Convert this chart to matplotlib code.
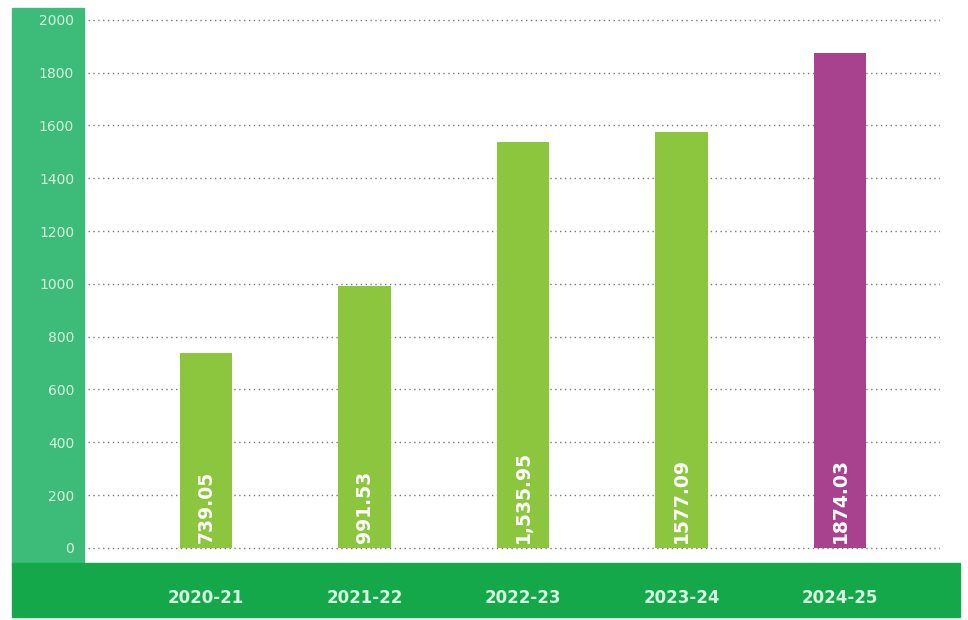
import matplotlib
matplotlib.use("Agg")
import matplotlib.pyplot as plt
from matplotlib.patches import Rectangle

years = ["2020-21", "2021-22", "2022-23", "2023-24", "2024-25"]
values = [739.05, 991.53, 1535.95, 1577.09, 1874.03]
labels = ["739.05", "991.53", "1,535.95", "1577.09", "1874.03"]
yticks = list(range(0, 2001, 200))

GREEN = "#8cc63f"
MAGENTA = "#a8428e"
colors = [GREEN, GREEN, GREEN, GREEN, MAGENTA]
TXT = "#d6f7e0"

W, H = 968, 620
fig = plt.figure(figsize=(W / 100, H / 100), dpi=100)

# coloured bands behind the axis labels
fig.patches.append(Rectangle((12 / W, 1 - 565 / H), (84 - 12) / W, (565 - 8) / H,
                             transform=fig.transFigure, color="#3dbb78", zorder=0))
fig.patches.append(Rectangle((12 / W, 1 - 617 / H), (960 - 12) / W, (617 - 563) / H,
                             transform=fig.transFigure, color="#14a84b", zorder=0))

ax = fig.add_axes([88 / W, 1 - 561 / H, (940 - 88) / W, (561 - 12) / H])
ax.set_zorder(2)
ax.set_facecolor("none")
x = list(range(len(years)))
ax.bar(x, values, width=0.33, color=colors, zorder=3)
for xi, v, lab in zip(x, values, labels):
    ax.text(xi, 18, lab, rotation=90, ha="center", va="bottom", color="white",
            fontsize=13.5, fontweight="bold", zorder=4)

ax.set_xlim(-0.745, 4.63)
ax.set_ylim(-50, 2030)
ax.set_yticks(yticks)
ax.set_yticklabels([str(t) for t in yticks], color=TXT, fontsize=10)
ax.set_xticks(x)
ax.set_xticklabels(years, color=TXT, fontsize=12, fontweight="bold")
ax.tick_params(axis="y", length=0, pad=10)
ax.tick_params(axis="x", length=0, pad=20)
ax.yaxis.grid(True, ls=(0, (1, 2.5)), color="#777777", lw=1, zorder=1)
for s in ax.spines.values():
    s.set_visible(False)

fig.savefig("out.png", dpi=100)
